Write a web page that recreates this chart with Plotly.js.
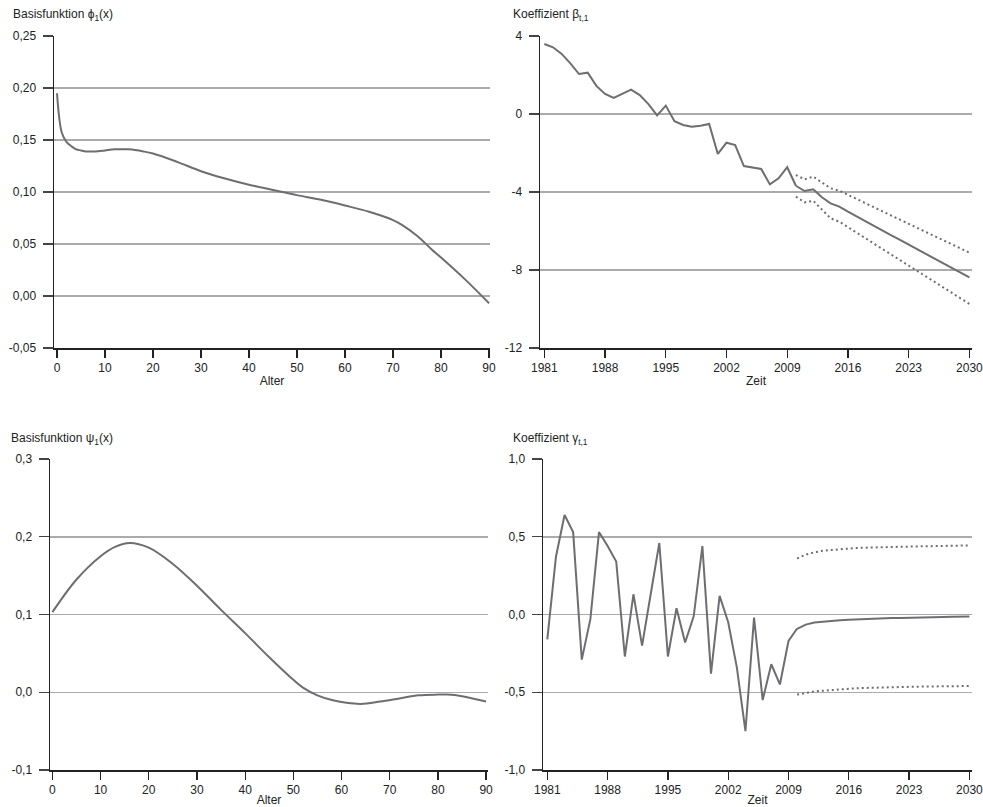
<!DOCTYPE html>
<html>
<head>
<meta charset="utf-8">
<script src="https://cdn.plot.ly/plotly-3.0.1.min.js"></script>
<style>
  html, body { margin: 0; padding: 0; background: #fff; }
  #chart { width: 983px; height: 807px; }
</style>
</head>
<body>
<div id="chart"></div>
<script>
// Basis function phi_1(x) by age
const agesPhi = [0, 1, 2, 3, 4, 5, 6, 8, 10, 12, 15, 18, 20, 25, 30, 35, 40, 45, 50, 55, 60, 65, 70, 72, 75, 78, 80, 85, 90];
const phi1 = [0.195, 0.157, 0.148, 0.144, 0.141, 0.140, 0.139, 0.139, 0.140, 0.141, 0.141, 0.139, 0.137, 0.129, 0.120, 0.113, 0.107, 0.102, 0.097, 0.0925, 0.087, 0.081, 0.073, 0.068, 0.058, 0.045, 0.037, 0.016, -0.007];

// Basis function psi_1(x) by age
const agesPsi = [0, 5, 10, 13, 16, 20, 25, 30, 35, 40, 45, 50, 52, 55, 58, 61, 64, 68, 72, 76, 80, 82, 85, 90];
const psi1 = [0.103, 0.145, 0.175, 0.187, 0.192, 0.186, 0.165, 0.137, 0.106, 0.076, 0.045, 0.016, 0.006, -0.004, -0.010, -0.0135, -0.015, -0.012, -0.008, -0.004, -0.003, -0.003, -0.005, -0.012];

// Period coefficient beta_t,1: observed years and projection
const yearsObs = [1981, 1982, 1983, 1984, 1985, 1986, 1987, 1988, 1989, 1990, 1991, 1992, 1993, 1994, 1995, 1996, 1997, 1998, 1999, 2000, 2001, 2002, 2003, 2004, 2005, 2006, 2007, 2008, 2009, 2010];
const betaObs = [3.59, 3.42, 3.08, 2.60, 2.05, 2.12, 1.44, 1.03, 0.82, 1.03, 1.25, 0.97, 0.51, -0.07, 0.43, -0.37, -0.56, -0.65, -0.60, -0.51, -2.05, -1.47, -1.59, -2.67, -2.73, -2.82, -3.61, -3.30, -2.73, -3.68];
const yearsFc = [2010, 2011, 2012, 2013, 2014, 2015, 2016, 2017, 2018, 2019, 2020, 2021, 2022, 2023, 2024, 2025, 2026, 2027, 2028, 2029, 2030];
const betaFc = [-3.68, -3.95, -3.86, -4.27, -4.58, -4.75, -5.01, -5.26, -5.50, -5.74, -5.98, -6.22, -6.46, -6.70, -6.94, -7.18, -7.42, -7.66, -7.90, -8.14, -8.38];
const betaHi = [-3.13, -3.35, -3.21, -3.52, -3.81, -3.93, -4.15, -4.37, -4.58, -4.79, -5.00, -5.21, -5.42, -5.63, -5.84, -6.06, -6.27, -6.48, -6.69, -6.90, -7.11];
const betaLo = [-4.24, -4.53, -4.45, -4.92, -5.35, -5.52, -5.81, -6.09, -6.37, -6.65, -6.93, -7.21, -7.49, -7.77, -8.05, -8.33, -8.61, -8.90, -9.18, -9.46, -9.74];

// Period coefficient gamma_t,1: observed years and projection
const gammaObs = [-0.16, 0.37, 0.64, 0.53, -0.29, -0.03, 0.53, 0.44, 0.34, -0.27, 0.13, -0.20, 0.13, 0.46, -0.27, 0.04, -0.18, -0.01, 0.44, -0.38, 0.12, -0.05, -0.34, -0.75, -0.02, -0.55, -0.32, -0.45, -0.17, -0.09];
const gammaFc = [-0.092, -0.065, -0.052, -0.046, -0.041, -0.037, -0.034, -0.031, -0.029, -0.027, -0.025, -0.023, -0.022, -0.020, -0.019, -0.018, -0.017, -0.016, -0.015, -0.014, -0.013];
const gammaHi = [0.36, 0.385, 0.40, 0.41, 0.415, 0.42, 0.425, 0.428, 0.43, 0.432, 0.434, 0.435, 0.436, 0.437, 0.438, 0.439, 0.44, 0.441, 0.442, 0.443, 0.444];
const gammaLo = [-0.515, -0.505, -0.495, -0.49, -0.485, -0.48, -0.477, -0.474, -0.472, -0.47, -0.468, -0.467, -0.466, -0.465, -0.464, -0.463, -0.462, -0.462, -0.461, -0.461, -0.46];

// Tick values and labels
const ageTicks = [0, 10, 20, 30, 40, 50, 60, 70, 80, 90];
const yearTicks = [1981, 1988, 1995, 2002, 2009, 2016, 2023, 2030];
const phiTicks = [-0.05, 0, 0.05, 0.10, 0.15, 0.20, 0.25];
const phiLabels = ['-0,05', '0,00', '0,05', '0,10', '0,15', '0,20', '0,25'];
const betaTicks = [-12, -8, -4, 0, 4];
const betaLabels = ['-12', '-8', '-4', '0', '4'];
const psiTicks = [-0.1, 0, 0.1, 0.2, 0.3];
const psiLabels = ['-0,1', '0,0', '0,1', '0,2', '0,3'];
const gammaTicks = [-1, -0.5, 0, 0.5, 1];
const gammaLabels = ['-1,0', '-0,5', '0,0', '0,5', '1,0'];

const W = 983, H = 807;
const LINE = '#6d6e71';
const FONT = 'Liberation Sans, Arial, Helvetica, sans-serif';
const px = v => v / W;
const py = v => 1 - v / H;

const solid = { color: LINE, width: 2 };
const dotted = { color: LINE, width: 2, dash: '2px,3px' };

const traces = [
  { x: agesPhi, y: phi1, xaxis: 'x', yaxis: 'y', mode: 'lines', line: Object.assign({ shape: 'spline', smoothing: 1 }, solid) },
  { x: yearsObs, y: betaObs, xaxis: 'x2', yaxis: 'y2', mode: 'lines', line: solid },
  { x: yearsFc, y: betaFc, xaxis: 'x2', yaxis: 'y2', mode: 'lines', line: solid },
  { x: yearsFc, y: betaHi, xaxis: 'x2', yaxis: 'y2', mode: 'lines', line: dotted },
  { x: yearsFc, y: betaLo, xaxis: 'x2', yaxis: 'y2', mode: 'lines', line: dotted },
  { x: agesPsi, y: psi1, xaxis: 'x3', yaxis: 'y3', mode: 'lines', line: Object.assign({ shape: 'spline', smoothing: 1 }, solid) },
  { x: yearsObs, y: gammaObs, xaxis: 'x4', yaxis: 'y4', mode: 'lines', line: solid },
  { x: yearsFc, y: gammaFc, xaxis: 'x4', yaxis: 'y4', mode: 'lines', line: solid },
  { x: yearsFc, y: gammaHi, xaxis: 'x4', yaxis: 'y4', mode: 'lines', line: dotted },
  { x: yearsFc, y: gammaLo, xaxis: 'x4', yaxis: 'y4', mode: 'lines', line: dotted }
];

function xAxis(left, right, range, ticks, title, anchor) {
  return {
    domain: [px(left), px(right)], range: range, anchor: anchor,
    tickmode: 'array', tickvals: ticks, ticktext: ticks.map(String),
    showgrid: false, zeroline: false, showline: true, linecolor: '#222', linewidth: 1.5,
    ticks: 'outside', ticklen: 8, tickwidth: 1.3, tickcolor: '#222',
    ticklabeloverflow: 'allow',
    tickfont: { family: FONT, size: 12, color: '#222' },
    title: { text: title, font: { family: FONT, size: 12, color: '#222' }, standoff: 2 },
    fixedrange: true
  };
}
function yAxis(top, bottom, range, ticks, labels, anchor) {
  return {
    domain: [py(bottom), py(top)], range: range, anchor: anchor,
    tickmode: 'array', tickvals: ticks, ticktext: labels,
    showgrid: true, gridcolor: '#ababab', gridwidth: 1.5, zeroline: false,
    showline: true, linecolor: '#222', linewidth: 1.5,
    ticks: 'outside', ticklen: 10, tickwidth: 1.3, tickcolor: '#444',
    ticklabelstandoff: 4,
    tickfont: { family: FONT, size: 12, color: '#222' },
    fixedrange: true
  };
}

function heading(text, x, y) {
  return { text: text, xref: 'paper', yref: 'paper', x: px(x), y: py(y), xanchor: 'left', yanchor: 'middle',
    showarrow: false, font: { family: FONT, size: 12, color: '#222' } };
}

const layout = {
  width: W, height: H,
  margin: { l: 0, r: 0, t: 0, b: 0 },
  paper_bgcolor: '#fff', plot_bgcolor: '#fff',
  showlegend: false,
  xaxis: xAxis(54, 490, [-0.63, 90.2], ageTicks, 'Alter', 'y'),
  yaxis: yAxis(36, 348, [-0.05, 0.25], phiTicks, phiLabels, 'x'),
  xaxis2: xAxis(540, 972, [1980.5, 2030.3], yearTicks, 'Zeit', 'y2'),
  yaxis2: yAxis(36, 348, [-12, 4], betaTicks, betaLabels, 'x2'),
  xaxis3: xAxis(50, 488, [-0.5, 90.4], ageTicks, 'Alter', 'y3'),
  yaxis3: yAxis(459, 770, [-0.1, 0.3], psiTicks, psiLabels, 'x3'),
  xaxis4: xAxis(543, 972, [1980.5, 2030.3], yearTicks, 'Zeit', 'y4'),
  yaxis4: yAxis(459, 770, [-1, 1], gammaTicks, gammaLabels, 'x4'),
  annotations: [
    heading('Basisfunktion ϕ<sub>1</sub>(x)', 11, 15),
    heading('Koeffizient β<sub>t,1</sub>', 511, 15),
    heading('Basisfunktion ψ<sub>1</sub>(x)', 9, 439),
    heading('Koeffizient γ<sub>t,1</sub>', 511, 439)
  ]
};

Plotly.newPlot('chart', traces, layout, { displayModeBar: false, staticPlot: true });
</script>
</body>
</html>
